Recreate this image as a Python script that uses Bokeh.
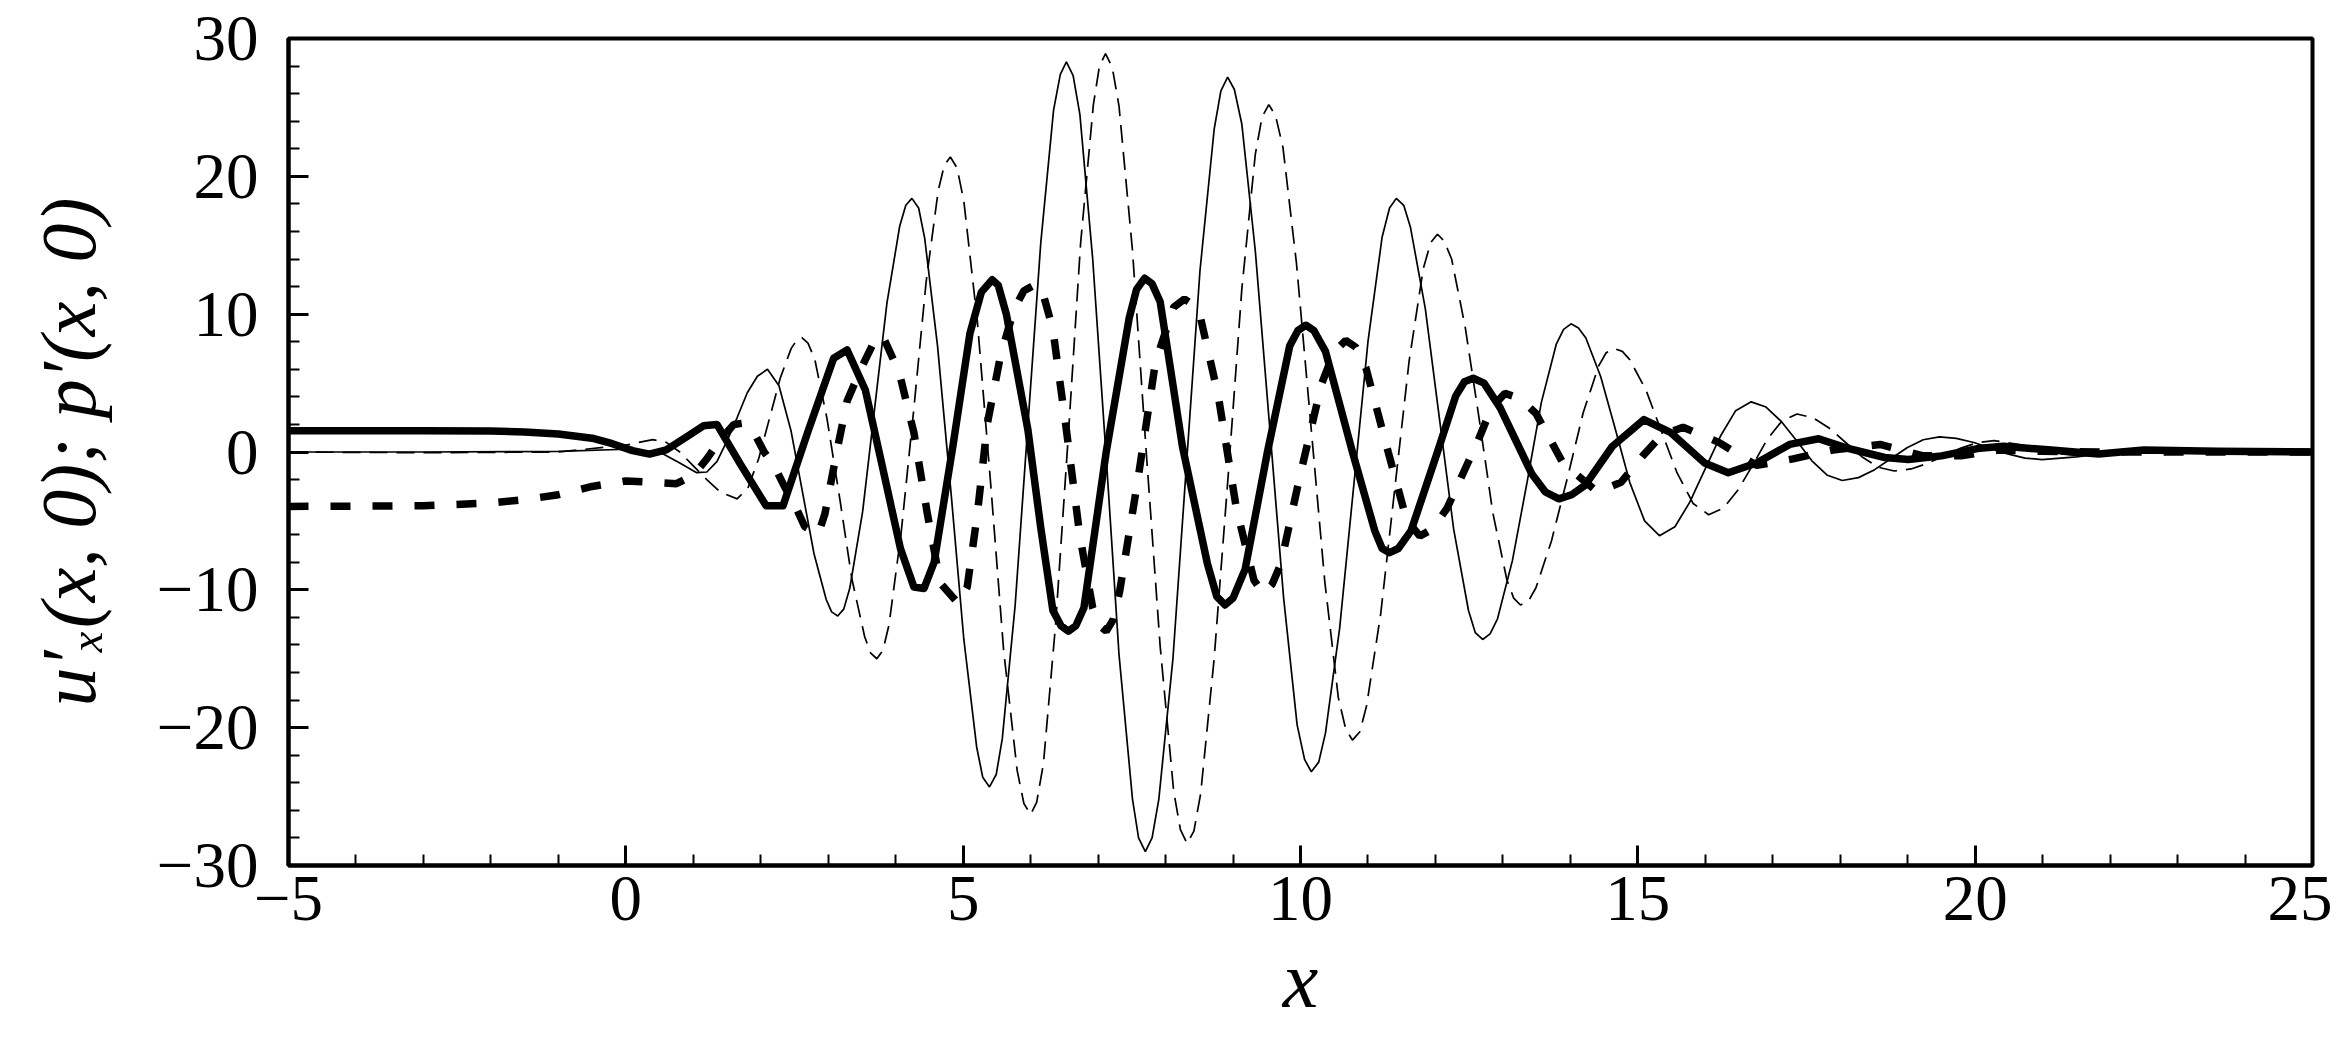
from bokeh.plotting import figure
from bokeh.models import FixedTicker
from bokeh.embed import file_html
from bokeh.resources import INLINE

# ---------------- data ----------------
# thin solid curve: (x, value)
thin_solid = [
    (-5, 0), (-3, 0), (-1, 0.05), (0, 0.2), (0.5, 0.0), (0.8, -0.8), (1.05, -1.5),
    (1.2, -1.45), (1.35, -0.7), (1.5, 0.8), (1.65, 2.5), (1.8, 4.3), (1.95, 5.5), (2.1, 6.0),
    (2.27, 4.8), (2.45, 1.5), (2.62, -2.95), (2.79, -7.4), (2.97, -10.7), (3.05, -11.6),
    (3.14, -11.9), (3.23, -11.4),
    (3.32, -9.87), (3.51, -4.32), (3.69, 3.25), (3.87, 10.8), (4.06, 16.4), (4.15, 17.9),
    (4.24, 18.4), (4.34, 17.7),
    (4.43, 15.5), (4.62, 7.7), (4.82, -2.95), (5.01, -13.6), (5.20, -21.4), (5.29, -23.6),
    (5.39, -24.3), (5.49, -23.4),
    (5.58, -20.8), (5.77, -11.15), (5.96, 2.0), (6.15, 15.15), (6.34, 24.8), (6.44, 27.4),
    (6.53, 28.3), (6.63, 27.3),
    (6.73, 24.5), (6.92, 14.0), (7.12, -0.35), (7.31, -14.7), (7.51, -25.2), (7.60, -28.0),
    (7.70, -29.0), (7.80, -28.0),
    (7.90, -25.2), (8.11, -14.95), (8.31, -0.9), (8.51, 13.15), (8.72, 23.4), (8.82, 26.2),
    (8.92, 27.2), (9.02, 26.3),
    (9.13, 23.8), (9.33, 14.6), (9.54, 2.0), (9.75, -10.6), (9.95, -19.8), (10.06, -22.3),
    (10.16, -23.2), (10.27, -22.5),
    (10.37, -20.4), (10.58, -12.8), (10.79, -2.4), (11.00, 8.0), (11.21, 15.6), (11.32, 17.7),
    (11.42, 18.4), (11.53, 17.9),
    (11.63, 16.3), (11.85, 10.4), (12.06, 2.4), (12.27, -5.6), (12.49, -11.5), (12.59, -13.1),
    (12.70, -13.6), (12.81, -13.2),
    (12.92, -12.1), (13.14, -7.9), (13.36, -2.15), (13.57, 3.6), (13.79, 7.8), (13.90, 8.9),
    (14.01, 9.3), (14.12, 9.0),
    (14.23, 8.27), (14.45, 5.46), (14.67, 1.6), (14.88, -2.2), (15.10, -5.0), (15.32, -6.07),
    (15.55, -5.42), (15.77, -3.64), (16.00, -1.2), (16.23, 1.2), (16.45, 3.0), (16.68, 3.64),
    (16.90, 3.26), (17.13, 2.2), (17.36, 0.78), (17.58, -0.64), (17.81, -1.69), (18.03, -2.07),
    (18.27, -1.86), (18.51, -1.28), (18.75, -0.49), (18.99, 0.31), (19.23, 0.89), (19.47, 1.1),
    (19.72, 0.99), (19.98, 0.69), (20.23, 0.28), (20.48, -0.14), (20.74, -0.44), (20.99, -0.55),
    (21.5, -0.35), (22.0, -0.05), (22.5, 0.15), (23.5, 0.0), (25, 0.0)]

# thin dashed curve
thin_dashed = [
    (-5, 0), (-3, -0.05), (-1, 0), (0, 0.5), (0.4, 0.9), (0.6, 0.7), (0.8, 0.0), (1.0, -1.0),
    (1.2, -2.0), (1.4, -2.9), (1.65, -3.4),
    (1.81, -2.62), (1.97, -0.47), (2.13, 2.45), (2.29, 5.38), (2.45, 7.5), (2.53, 8.1),
    (2.61, 8.3), (2.70, 7.9),
    (2.80, 6.74), (2.98, 2.47), (3.17, -3.35), (3.35, -9.2), (3.54, -13.4), (3.63, -14.6),
    (3.72, -15.0), (3.81, -14.4),
    (3.90, -12.56), (4.08, -5.9), (4.27, 3.2), (4.45, 12.3), (4.63, 18.96), (4.72, 20.8),
    (4.81, 21.4), (4.91, 20.6),
    (5.01, 18.2), (5.21, 9.5), (5.41, -2.45), (5.60, -14.4), (5.80, -23.1), (5.90, -25.5),
    (6.00, -26.3), (6.09, -25.4),
    (6.19, -22.6), (6.37, -12.5), (6.56, 1.3), (6.74, 15.1), (6.93, 25.2), (7.02, 28.0),
    (7.11, 28.9), (7.21, 27.9),
    (7.31, 25.1), (7.51, 14.6), (7.71, 0.25), (7.92, -14.1), (8.12, -24.6), (8.22, -27.4),
    (8.32, -28.4), (8.42, -27.5),
    (8.52, -24.8), (8.72, -15.0), (8.93, -1.6), (9.13, 11.8), (9.33, 21.6), (9.43, 24.3),
    (9.53, 25.2), (9.63, 24.4),
    (9.74, 22.1), (9.94, 13.7), (10.15, 2.15), (10.36, -9.4), (10.56, -17.8), (10.67, -20.1),
    (10.77, -20.9), (10.88, -20.3),
    (10.98, -18.4), (11.19, -11.7), (11.40, -2.55), (11.61, 6.6), (11.82, 13.3), (11.93, 15.2),
    (12.03, 15.8), (12.13, 15.3),
    (12.24, 14.0), (12.44, 9.1), (12.65, 2.35), (12.85, -4.4), (13.06, -9.3), (13.16, -10.6),
    (13.26, -11.1), (13.38, -10.8),
    (13.49, -9.85), (13.72, -6.45), (13.96, -1.8), (14.19, 2.85), (14.42, 6.25), (14.53, 7.2),
    (14.65, 7.5), (14.77, 7.3),
    (14.88, 6.7), (15.12, 4.5), (15.35, 1.5), (15.58, -1.5), (15.82, -3.74), (16.05, -4.55),
    (16.27, -4.06), (16.49, -2.72), (16.71, -0.89), (16.92, 0.93), (17.14, 2.27), (17.36, 2.76),
    (17.60, 2.48), (17.84, 1.72), (18.08, 0.69), (18.32, -0.34), (18.56, -1.1), (18.80, -1.38),
    (19.05, -1.23), (19.29, -0.83), (19.54, -0.28), (19.79, 0.28), (20.03, 0.68), (20.28, 0.83),
    (20.7, 0.5), (21.1, -0.05), (21.6, -0.3), (22.3, -0.1), (23.0, 0.05), (25, 0.0)]

# thick solid curve
thick_solid = [
    (-5, 1.55), (-3, 1.55), (-2, 1.52), (-1.5, 1.45), (-1, 1.3), (-0.5, 1.0), (-0.2, 0.6),
    (0.1, 0.1), (0.35, -0.15), (0.6, 0.15), (0.9, 1.1), (1.15, 1.9), (1.35, 2.0), (1.7, -0.9),
    (2.08, -3.9), (2.33, -3.9), (2.7, 1.5), (3.08, 6.8), (3.28, 7.4), (3.55, 4.5), (3.8, -1.0),
    (4.07, -7.0), (4.27, -9.8), (4.42, -9.9), (4.57, -8.0), (4.85, 0.5), (5.1, 8.6),
    (5.27, 11.6), (5.43, 12.5), (5.52, 12.1), (5.64, 10.0), (5.96, 1.6), (6.15, -5.5),
    (6.33, -11.5), (6.45, -12.6), (6.56, -13.0), (6.67, -12.6), (6.79, -11.3), (7.12, 0.0),
    (7.46, 9.7), (7.57, 11.8), (7.69, 12.6), (7.80, 12.2), (7.92, 10.9), (8.25, 0.4),
    (8.62, -8.1), (8.76, -10.5), (8.88, -11.1), (9.0, -10.6), (9.18, -8.5), (9.51, 0.0),
    (9.84, 7.7), (9.96, 8.8), (10.08, 9.2), (10.2, 8.8), (10.37, 7.3), (10.77, 0.0),
    (11.1, -5.7), (11.21, -7.0), (11.32, -7.3), (11.45, -7.0), (11.64, -5.7), (12.03, 0.0),
    (12.3, 4.05), (12.43, 5.1), (12.56, 5.35), (12.72, 5.0), (12.96, 3.2), (13.43, -1.6),
    (13.63, -2.9), (13.83, -3.4), (14.02, -3.1), (14.22, -2.4), (14.62, 0.4), (15.09, 2.35),
    (15.49, 1.4), (15.99, -0.8), (16.34, -1.5), (16.76, -0.8), (17.25, 0.55), (17.68, 0.96),
    (18.1, 0.28), (18.66, -0.4), (19.01, -0.55), (19.5, -0.28), (20.07, 0.28), (20.42, 0.41),
    (21.13, 0.14), (21.83, -0.14), (22.5, 0.14), (23.6, 0.05), (25, 0.0)]

# thick dashed curve
thick_dashed = [
    (-5, -3.95), (-3, -3.9), (-2, -3.7), (-1.5, -3.45), (-1, -3.1), (-0.5, -2.5), (0, -2.1),
    (0.4, -2.2), (0.75, -2.3), (1.0, -1.7), (1.2, -0.5), (1.4, 0.9), (1.6, 2.0), (1.75, 2.1),
    (1.9, 1.4), (2.05, 0.0), (2.2, -1.0), (2.35, -2.5), (2.5, -3.8), (2.65, -5.4), (2.85, -6.0),
    (2.95, -4.5), (3.13, 0.1), (3.28, 3.7), (3.48, 6.0), (3.68, 8.0), (3.8, 8.5), (4.05, 5.8),
    (4.27, 1.4), (4.47, -4.5), (4.66, -9.5), (4.93, -11.0), (5.06, -9.8), (5.21, -4.5),
    (5.36, 2.1), (5.55, 6.9), (5.75, 10.3), (5.9, 11.7), (6.09, 12.2), (6.2, 11.2),
    (6.33, 8.9), (6.53, 1.6), (6.73, -6.1), (6.92, -11.3), (7.02, -12.6), (7.12, -13.0),
    (7.22, -12.2), (7.32, -10.1), (7.59, -2.0), (7.85, 6.5), (8.12, 10.5), (8.28, 11.1),
    (8.4, 10.7), (8.52, 9.7), (8.78, 4.1), (9.05, -4.1), (9.31, -9.3), (9.45, -10.3),
    (9.58, -9.6), (9.71, -8.1), (9.98, -2.0), (10.31, 4.9), (10.49, 7.2), (10.67, 8.1),
    (10.82, 7.6), (10.97, 6.1), (11.3, 0.0), (11.57, -4.9), (11.77, -6.1), (11.95, -5.6),
    (12.17, -4.1), (12.63, 0.8), (12.83, 3.2), (13.03, 4.25), (13.25, 3.9), (13.49, 2.8),
    (13.89, -0.8), (14.4, -2.9), (14.75, -2.2), (15.07, -0.3), (15.35, 1.2), (15.67, 1.8),
    (16.2, 0.7), (16.76, -0.97), (17.3, -0.5), (17.89, 0.14), (18.59, 0.55), (19.23, -0.28),
    (19.79, -0.28), (20.35, 0.14), (21.0, 0.05), (22.0, 0.0), (25, 0.0)]

x_major = [-5, 0, 5, 10, 15, 20, 25]
x_labels = ["\u22125", "0", "5", "10", "15", "20", "25"]
y_major = [-30, -20, -10, 0, 10, 20, 30]
y_labels = ["\u221230", "\u221220", "\u221210", "0", "10", "20", "30"]
x_minor = [-4, -3, -2, -1, 1, 2, 3, 4, 6, 7, 8, 9, 11, 12, 13, 14, 16, 17, 18, 19, 21, 22, 23, 24]
y_minor = [-28, -26, -24, -22, -18, -16, -14, -12, -8, -6, -4, -2,
           2, 4, 6, 8, 12, 14, 16, 18, 22, 24, 26, 28]

x_title = "x"
y_title = "u\u2032\u2093(x, 0); p\u2032(x, 0)"

# ---------------- figure ----------------
FONT = "Liberation Serif"
p = figure(frame_width=2024, frame_height=827,
           x_range=(-5, 25), y_range=(-30, 30),
           min_border_left=288, min_border_right=20,
           min_border_top=38, min_border_bottom=175,
           output_backend="svg", toolbar_location=None,
           background_fill_color="white", border_fill_color="white")
p.grid.visible = False
p.outline_line_color = "black"
p.outline_line_width = 4


def split(pts):
    return [a for a, _ in pts], [b for _, b in pts]


xs, ys = split(thin_solid)
p.line(xs, ys, line_color="black", line_width=1.7)
xs, ys = split(thin_dashed)
p.line(xs, ys, line_color="black", line_width=1.7, line_dash="18 9")
xs, ys = split(thick_solid)
p.line(xs, ys, line_color="black", line_width=7.5, line_join="round")
xs, ys = split(thick_dashed)
p.line(xs, ys, line_color="black", line_width=7.5, line_dash="20 22")

for ax, major, minor, labels in ((p.xaxis[0], x_major, x_minor, x_labels),
                                  (p.yaxis[0], y_major, y_minor, y_labels)):
    ax.ticker = FixedTicker(ticks=major, minor_ticks=minor)
    ax.major_label_overrides = {m: l for m, l in zip(major, labels)}
    ax.major_tick_in = 20
    ax.major_tick_out = 0
    ax.minor_tick_in = 11
    ax.minor_tick_out = 0
    ax.major_tick_line_width = 3
    ax.minor_tick_line_width = 2
    ax.major_tick_line_color = "black"
    ax.minor_tick_line_color = "black"
    ax.axis_line_width = 4
    ax.axis_line_color = "black"
    ax.major_label_text_font = FONT
    ax.major_label_text_font_size = "65px"
    ax.major_label_text_color = "black"
    ax.axis_label_text_font = FONT
    ax.axis_label_text_color = "black"
    ax.axis_label_text_font_style = "italic"

p.xaxis[0].axis_label = x_title
p.yaxis[0].axis_label = y_title
p.xaxis[0].axis_label_text_font_size = "80px"
p.yaxis[0].axis_label_text_font_size = "78px"
p.xaxis[0].major_label_standoff = 11
p.yaxis[0].major_label_standoff = 30
p.xaxis[0].axis_label_standoff = 13
p.yaxis[0].axis_label_standoff = 42

open("out.html", "w").write(file_html(p, INLINE))
